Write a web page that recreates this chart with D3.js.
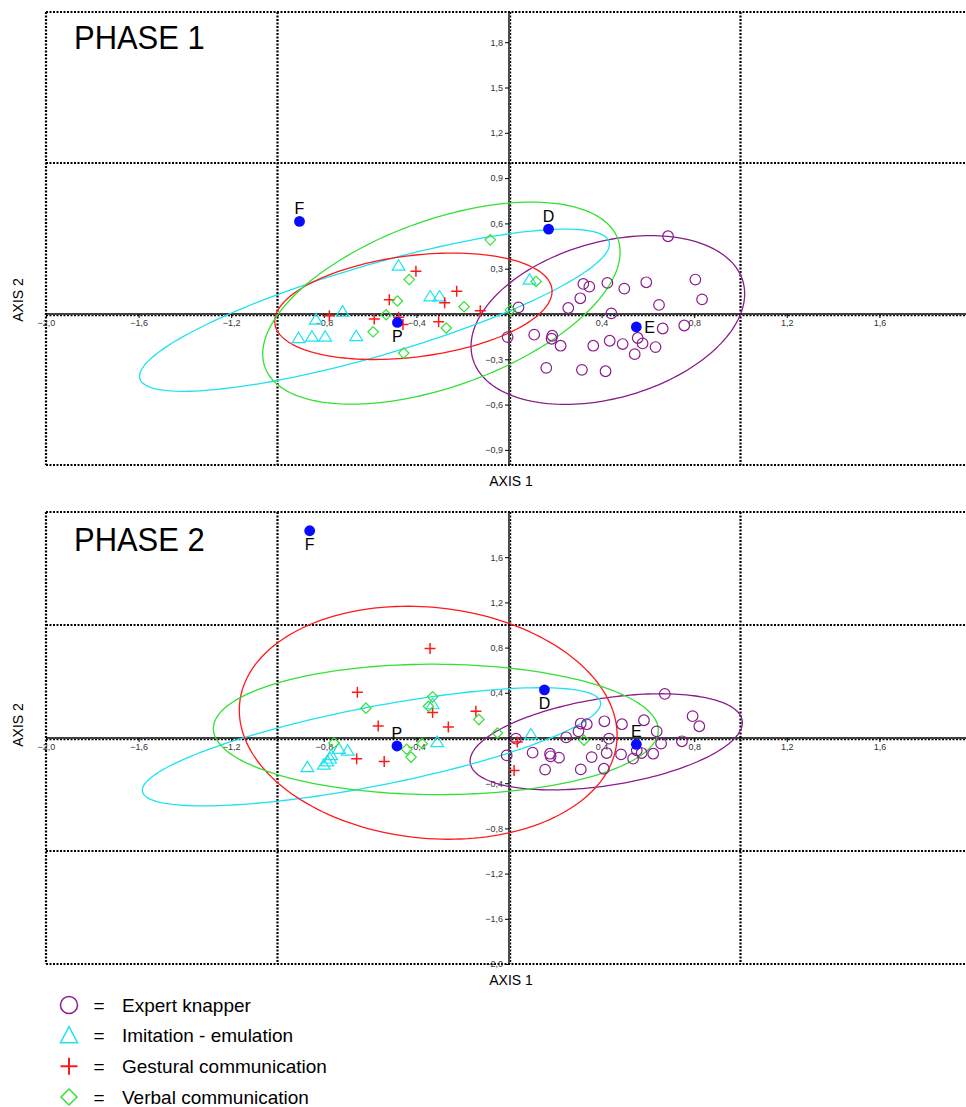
<!DOCTYPE html>
<html>
<head>
<meta charset="utf-8">
<script src="https://cdn.jsdelivr.net/npm/d3@7"></script>
<style>
  body { margin: 0; background: #fff; }
  text { font-family: "Liberation Sans", Arial, sans-serif; }
</style>
</head>
<body>
<div id="chart"></div>
<script>
// ---- data ----
const groups = ["Expert knapper", "Imitation - emulation", "Gestural communication", "Verbal communication"];
const groupColor = ["#8b1c8b", "#1ee3ee", "#ff1a1a", "#33e033"];

const xTicks = [-2.0, -1.6, -1.2, -0.8, -0.4, 0.4, 0.8, 1.2, 1.6];
const phase1YTicks = [-0.9, -0.6, -0.3, 0.3, 0.6, 0.9, 1.2, 1.5, 1.8];
const phase2YTicks = [-2.0, -1.6, -1.2, -0.8, -0.4, 0.4, 0.8, 1.2, 1.6];

// PHASE 1
const p1Expert = [[0.687,0.515],[0.805,0.228],[0.834,0.097],[0.593,0.21],[0.648,0.06],[0.498,0.168],
  [0.425,0.206],[0.321,0.199],[0.347,0.181],[0.308,0.104],[0.256,0.04],[0.442,0.004],[0.041,0.044],
  [0.664,-0.096],[0.757,-0.076],[-0.006,-0.153],[0.109,-0.137],[0.187,-0.144],[0.184,-0.164],
  [0.223,-0.21],[0.364,-0.21],[0.435,-0.177],[0.491,-0.199],[0.556,-0.159],[0.577,-0.195],
  [0.633,-0.219],[0.543,-0.266],[0.161,-0.357],[0.315,-0.37],[0.417,-0.379]];
const p1Imitation = [[-0.477,0.321],[-0.34,0.117],[-0.3,0.117],[-0.719,0.017],[-0.834,-0.036],
  [-0.909,-0.159],[-0.851,-0.149],[-0.794,-0.149],[-0.66,-0.146],[0.089,0.228]];
const p1Gestural = [[-0.402,0.283],[-0.517,0.095],[-0.278,0.075],[-0.226,0.15],[-0.124,0.022],
  [-0.776,-0.011],[-0.582,-0.033],[-0.477,-0.022],[-0.458,-0.07],[-0.304,-0.051]];
const p1Verbal = [[-0.431,0.228],[-0.482,0.086],[-0.531,-0.005],[-0.587,-0.118],[-0.455,-0.259],
  [-0.271,-0.093],[-0.194,0.048],[0.006,0.027],[-0.081,0.491],[0.117,0.216]];
const p1Refs = [{name:"F", x:-0.905, y:0.613}, {name:"D", x:0.171, y:0.562},
  {name:"P", x:-0.482, y:-0.056}, {name:"E", x:0.55, y:-0.086}];
// ellipse: centre (cx,cy), half-diameter to the rightmost point (ax,ay), vertical half-chord k
const p1Ellipses = [
  {g:0, cx:0.427, cy:-0.04, ax:0.591, ay:0.174, k:0.531},
  {g:1, cx:-0.581, cy:0.025, ax:1.015, ay:0.437, k:0.312},
  {g:2, cx:-0.413, cy:0.051, ax:0.599, ay:0.0996, k:0.338},
  {g:3, cx:-0.292, cy:0.072, ax:0.772, ay:0.337, k:0.578}];

// PHASE 2
const p2Expert = [[0.673,0.39],[0.793,0.193],[0.822,0.104],[0.583,0.157],[0.488,0.122],[0.412,0.148],
  [0.31,0.128],[0.336,0.122],[0.3,0.059],[0.247,0.006],[0.638,0.059],[0.432,-0.006],[0.03,-0.006],
  [0.747,-0.029],[0.657,-0.05],[-0.01,-0.154],[0.102,-0.13],[0.177,-0.139],[0.18,-0.162],
  [0.216,-0.174],[0.357,-0.169],[0.422,-0.133],[0.484,-0.145],[0.552,-0.109],[0.573,-0.133],
  [0.623,-0.139],[0.536,-0.183],[0.156,-0.28],[0.31,-0.278],[0.41,-0.272]];
const p2Imitation = [[-0.871,-0.257],[-0.80,-0.235],[-0.773,-0.18],[-0.768,-0.15],[-0.735,-0.095],
  [-0.697,-0.11],[-0.31,-0.035],[-0.33,0.30],[0.095,0.033],[-0.785,-0.205]];
const p2Gestural = [[-0.341,0.793],[-0.655,0.405],[-0.33,0.225],[-0.143,0.237],[-0.565,0.106],
  [-0.262,0.098],[-0.658,-0.183],[-0.539,-0.207],[0.036,-0.035],[0.022,-0.287]];
const p2Verbal = [[-0.33,0.364],[-0.348,0.281],[-0.618,0.264],[-0.13,0.163],[-0.05,0.044],
  [-0.375,-0.05],[-0.442,-0.1],[-0.423,-0.169],[-0.756,-0.044],[0.324,-0.02]];
const p2Refs = [{name:"F", x:-0.861, y:1.834}, {name:"D", x:0.153, y:0.426},
  {name:"P", x:-0.484, y:-0.071}, {name:"E", x:0.55, y:-0.056}];
const p2Ellipses = [
  {g:0, cx:0.42, cy:-0.034, ax:0.588, ay:0.17, k:0.39},
  {g:1, cx:-0.594, cy:-0.078, ax:0.99, ay:0.384, k:0.355},
  {g:2, cx:-0.349, cy:0.135, ax:0.816, ay:-0.111, k:1.025},
  {g:3, cx:-0.316, cy:0.076, ax:0.961, ay:-0.007, k:0.577}];

// ---- drawing ----
const W = 966, H = 1107;
const svg = d3.select("#chart").append("svg").attr("width", W).attr("height", H);

const x = d3.scaleLinear().domain([-2, 2]).range([46, 972]);
const fmt = v => d3.format(".1f")(v).replace(".", ",");

// marker shapes
const shapes = [
  s => `M${s},0A${s},${s} 0 1,1 ${-s},0A${s},${s} 0 1,1 ${s},0Z`,
  s => `M0,${-s}L${s*1.1},${s*0.8}L${-s*1.1},${s*0.8}Z`,
  s => `M${-s},0H${s}M0,${-s}V${s}`,
  s => `M0,${-s}L${s},0L0,${s}L${-s},0Z`
];
const markSize = [5.3, 5.8, 5.5, 5.2];

function dotted(g, x1, y1, x2, y2, w) {
  g.append("line").attr("x1", x1).attr("y1", y1).attr("x2", x2).attr("y2", y2)
    .attr("stroke", "#000").attr("stroke-width", w).attr("stroke-dasharray", "2 1.5");
}

function drawPhase(opt) {
  const y = d3.scaleLinear().domain(opt.yDomain).range(opt.yRange);
  const g = svg.append("g");
  const top = opt.yRange[1], bot = opt.yRange[0];

  // frame
  dotted(g, x(-2), top, W, top, 2.2);
  dotted(g, x(-2), bot, W, bot, 2.2);
  dotted(g, x(-2), top, x(-2), bot, 2.2);

  // dotted grid
  [-1, 1].forEach(v => dotted(g, x(v), top, x(v), bot, 2.2));
  opt.hGrid.forEach(v => dotted(g, x(-2), y(v), W, y(v), 2.2));

  // axes through the origin
  g.append("line").attr("x1", x(-2)).attr("x2", W).attr("y1", y(0)).attr("y2", y(0))
    .attr("stroke", "#000").attr("stroke-width", 1.4);
  dotted(g, x(-2), y(0) + 1.6, W, y(0) + 1.6, 1.2);
  g.append("line").attr("x1", x(0)).attr("x2", x(0)).attr("y1", top).attr("y2", bot)
    .attr("stroke", "#000").attr("stroke-width", 1.4);
  dotted(g, x(0) + 1.6, top, x(0) + 1.6, bot, 1.2);

  const xAxis = g.append("g").attr("transform", `translate(0,${y(0)})`)
    .call(d3.axisBottom(x).tickValues(xTicks).tickFormat(fmt).tickSize(4).tickPadding(2));
  const yAxis = g.append("g").attr("transform", `translate(${x(0)},0)`)
    .call(d3.axisLeft(y).tickValues(opt.yTicks).tickFormat(fmt).tickSize(4).tickPadding(2));
  [xAxis, yAxis].forEach(a => {
    a.select(".domain").remove();
    a.selectAll("text").attr("font-size", 9).attr("fill", "#333")
      .attr("font-family", "Liberation Sans, Arial, sans-serif");
    a.selectAll("line").attr("stroke", "#000");
  });

  // title
  g.append("text").attr("transform", `translate(74,${opt.titleY}) scale(0.91,1)`)
    .attr("font-size", 34).text(opt.title);

  // axis titles
  g.append("text").attr("x", 511).attr("y", opt.axis1Y).attr("text-anchor", "middle")
    .attr("font-size", 14).text("AXIS 1");
  g.append("text").attr("transform", `translate(23,${opt.axis2Y}) rotate(-90)`)
    .attr("text-anchor", "middle").attr("font-size", 14).text("AXIS 2");

  // ellipses
  const steps = d3.range(0, 2 * Math.PI, Math.PI / 90);
  const line = d3.line().curve(d3.curveLinearClosed);
  g.selectAll(".ell").data(opt.ellipses).join("path")
    .attr("d", e => line(steps.map(t => [x(e.cx + e.ax * Math.cos(t)),
                                          y(e.cy + e.ay * Math.cos(t) + e.k * Math.sin(t))])))
    .attr("fill", "none").attr("stroke", e => groupColor[e.g]).attr("stroke-width", 1.3);

  // points
  opt.sets.forEach((pts, gi) => {
    g.selectAll(null).data(pts).join("path")
      .attr("transform", d => `translate(${x(d[0])},${y(d[1])})`)
      .attr("d", shapes[gi](markSize[gi]))
      .attr("fill", "none").attr("stroke", groupColor[gi])
      .attr("stroke-width", gi === 2 ? 1.5 : 1.2);
  });

  // reference points
  g.selectAll(".ref").data(opt.refs).join("circle")
    .attr("cx", d => x(d.x)).attr("cy", d => y(d.y)).attr("r", 5.4).attr("fill", "#0a0aff");
  g.selectAll(".reflab").data(opt.refs).join("text")
    .attr("font-size", 16)
    .attr("x", d => x(d.x) + (opt.labelSide[d.name] === "right" ? 8 : 0))
    .attr("y", d => {
      const s = opt.labelSide[d.name];
      return y(d.y) + (s === "above" ? -7.5 : s === "below" ? 19.5 : 6.5);
    })
    .attr("text-anchor", d => opt.labelSide[d.name] === "right" ? "start" : "middle")
    .text(d => d.name);
}

drawPhase({
  title: "PHASE 1", titleY: 49, axis1Y: 486, axis2Y: 300,
  yDomain: [-1, 2], yRange: [465, 12], yTicks: phase1YTicks, hGrid: [1],
  ellipses: p1Ellipses, sets: [p1Expert, p1Imitation, p1Gestural, p1Verbal], refs: p1Refs,
  labelSide: {F: "above", D: "above", P: "below", E: "right"}
});

drawPhase({
  title: "PHASE 2", titleY: 551, axis1Y: 985, axis2Y: 725,
  yDomain: [-2, 2], yRange: [964, 512], yTicks: phase2YTicks, hGrid: [1, -1],
  ellipses: p2Ellipses, sets: [p2Expert, p2Imitation, p2Gestural, p2Verbal], refs: p2Refs,
  labelSide: {F: "below", D: "below", P: "above", E: "above"}
});

// legend
const ly = d3.scalePoint().domain(groups).range([1005, 1097]);
const legend = svg.append("g");
const legendSize = [8.5, 8.5, 8.5, 8];
groups.forEach((name, i) => {
  legend.append("path").attr("transform", `translate(69,${ly(name)})`)
    .attr("d", i === 1 ? `M0,-9L8.5,7L-8.5,7Z` : shapes[i](legendSize[i]))
    .attr("fill", "none").attr("stroke", groupColor[i]).attr("stroke-width", i === 2 ? 2 : 1.5);
  legend.append("text").attr("x", 99).attr("y", ly(name)).attr("dy", "0.35em")
    .attr("text-anchor", "middle").attr("font-size", 19).text("=");
  legend.append("text").attr("x", 122).attr("y", ly(name)).attr("dy", "0.35em")
    .attr("font-size", 19).text(name);
});
</script>
</body>
</html>
